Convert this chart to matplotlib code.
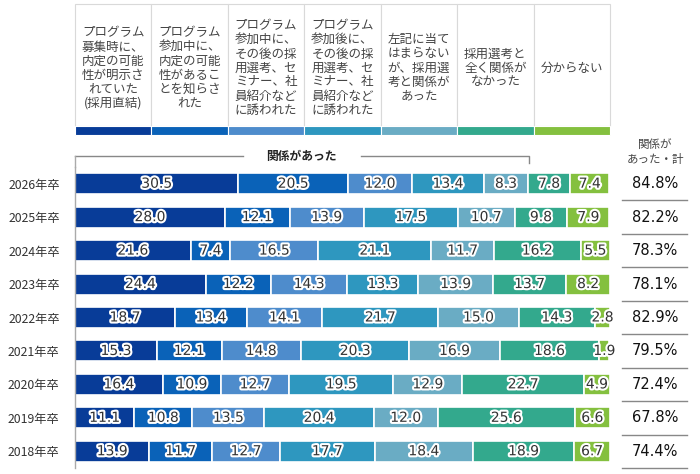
import matplotlib
matplotlib.use('Agg')
import matplotlib.pyplot as plt
import matplotlib.patheffects as pe
from matplotlib.patches import Rectangle
from matplotlib.transforms import blended_transform_factory
import numpy as np

plt.rcParams['font.family'] = ['Noto Sans CJK JP', 'DejaVu Sans']

years = ['2026年卒', '2025年卒', '2024年卒', '2023年卒', '2022年卒',
         '2021年卒', '2020年卒', '2019年卒', '2018年卒']

headers = [
    'プログラム\n募集時に、\n内定の可能\n性が明示さ\nれていた\n(採用直結)',
    'プログラム\n参加中に、\n内定の可能\n性があるこ\nとを知らさ\nれた',
    'プログラム\n参加中に、\nその後の採\n用選考、セ\nミナー、社\n員紹介など\nに誘われた',
    'プログラム\n参加後に、\nその後の採\n用選考、セ\nミナー、社\n員紹介など\nに誘われた',
    '左記に当て\nはまらない\nが、採用選\n考と関係が\nあった',
    '採用選考と\n全く関係が\nなかった',
    '分からない',
]

direct = [30.5, 28.0, 21.6, 24.4, 18.7, 15.3, 16.4, 11.1, 13.9]
informed = [20.5, 12.1, 7.4, 12.2, 13.4, 12.1, 10.9, 10.8, 11.7]
invited_during = [12.0, 13.9, 16.5, 14.3, 14.1, 14.8, 12.7, 13.5, 12.7]
invited_after = [13.4, 17.5, 21.1, 13.3, 21.7, 20.3, 19.5, 20.4, 17.7]
other_related = [8.3, 10.7, 11.7, 13.9, 15.0, 16.9, 12.9, 12.0, 18.4]
not_related = [7.8, 9.8, 16.2, 13.7, 14.3, 18.6, 22.7, 25.6, 18.9]
unknown = [7.4, 7.9, 5.5, 8.2, 2.8, 1.9, 4.9, 6.6, 6.7]
related_total = [84.8, 82.2, 78.3, 78.1, 82.9, 79.5, 72.4, 67.8, 74.4]

series = [direct, informed, invited_during, invited_after,
          other_related, not_related, unknown]
colors = ['#083c98', '#0a62b8', '#4e8ccc', '#2e97bf',
          '#6aacc4', '#33a98d', '#84c03f']

W, H = 700, 474
fig = plt.figure(figsize=(W / 100, H / 100), dpi=100)
fig.patch.set_facecolor('white')


def fx(px):
    return px / W


def fy(py):
    return 1 - py / H


ax_left, ax_right, ax_top, ax_bot = 75, 610, 167, 468
ax = fig.add_axes([fx(ax_left), fy(ax_bot), fx(ax_right - ax_left),
                   (ax_bot - ax_top) / H])

y = np.arange(len(years))
left = np.zeros(len(years))
halo = [pe.withStroke(linewidth=3, foreground='white')]
for vals, col in zip(series, colors):
    vals = np.array(vals)
    ax.barh(y, vals, left=left, height=0.63, color=col,
            edgecolor='white', linewidth=1.2)
    for yi, (l, v) in enumerate(zip(left, vals)):
        ax.text(l + v / 2, yi, f'{v:.1f}', ha='center', va='center',
                fontsize=10, color='#333333', path_effects=halo,
                family=['DejaVu Sans'], clip_on=False)
    left += vals

ax.set_xlim(0, 100)
ax.set_ylim(len(years) - 0.5, -0.5)
ax.set_xticks([])
ax.set_yticks(y)
ax.set_yticklabels(years, fontsize=8.8, color='#333333')
ax.tick_params(axis='y', length=0, pad=11)
for s in ['top', 'right', 'bottom']:
    ax.spines[s].set_visible(False)
ax.spines['left'].set_color('#aaaaaa')
ax.spines['left'].set_linewidth(1)

# header boxes
hx = blended_transform_factory(ax.transAxes, fig.transFigure)
n = len(headers)
for i, (txt, col) in enumerate(zip(headers, colors)):
    x0 = i / n
    fig.add_artist(Rectangle((x0, fy(126)), 1 / n, fy(4) - fy(126),
                             transform=hx, facecolor='white',
                             edgecolor='#d9d9d9', linewidth=0.8))
    fig.add_artist(Rectangle((x0, fy(135)), 1 / n, fy(126) - fy(135),
                             transform=hx, facecolor=col,
                             edgecolor='white', linewidth=0.8))
    fig.text(x0 + 0.5 / n, fy(68), txt, transform=hx, ha='center',
             va='center', fontsize=9, color='#444444', linespacing=1.1,
             multialignment='center')

# bracket over related categories
bx = blended_transform_factory(ax.transData, fig.transFigure)
span = related_total[0]
mid = span / 2
gap = 11
ax.plot([0, mid - gap], [fy(156), fy(156)], transform=bx, color='#888888',
        lw=1, clip_on=False)
ax.plot([mid + gap, span, span], [fy(156), fy(156), fy(163)], transform=bx,
        color='#888888', lw=1, clip_on=False)
ax.plot([0, 0], [fy(156), fy(ax_top)], transform=bx, color='#aaaaaa',
        lw=1, clip_on=False)
fig.text(mid, fy(156), '関係があった', transform=bx, ha='center',
         va='center', fontsize=8.5, fontweight='bold', color='#222222')

# totals column
fig.text(fx(655), fy(152), '関係が\nあった・計', ha='center', va='center',
         fontsize=8.3, color='#444444', linespacing=1.15)
tx = blended_transform_factory(fig.transFigure, ax.transData)
for yi, v in enumerate(related_total):
    ax.text(fx(655), yi, f'{v:.1f}%', transform=tx, ha='center',
            va='center', fontsize=10.5, color='#111111',
            family=['DejaVu Sans'], clip_on=False)
    ax.plot([fx(622), fx(687)], [yi + 0.5, yi + 0.5], transform=tx,
            color='#888888', lw=1, clip_on=False)

fig.savefig('out.png', dpi=100)
